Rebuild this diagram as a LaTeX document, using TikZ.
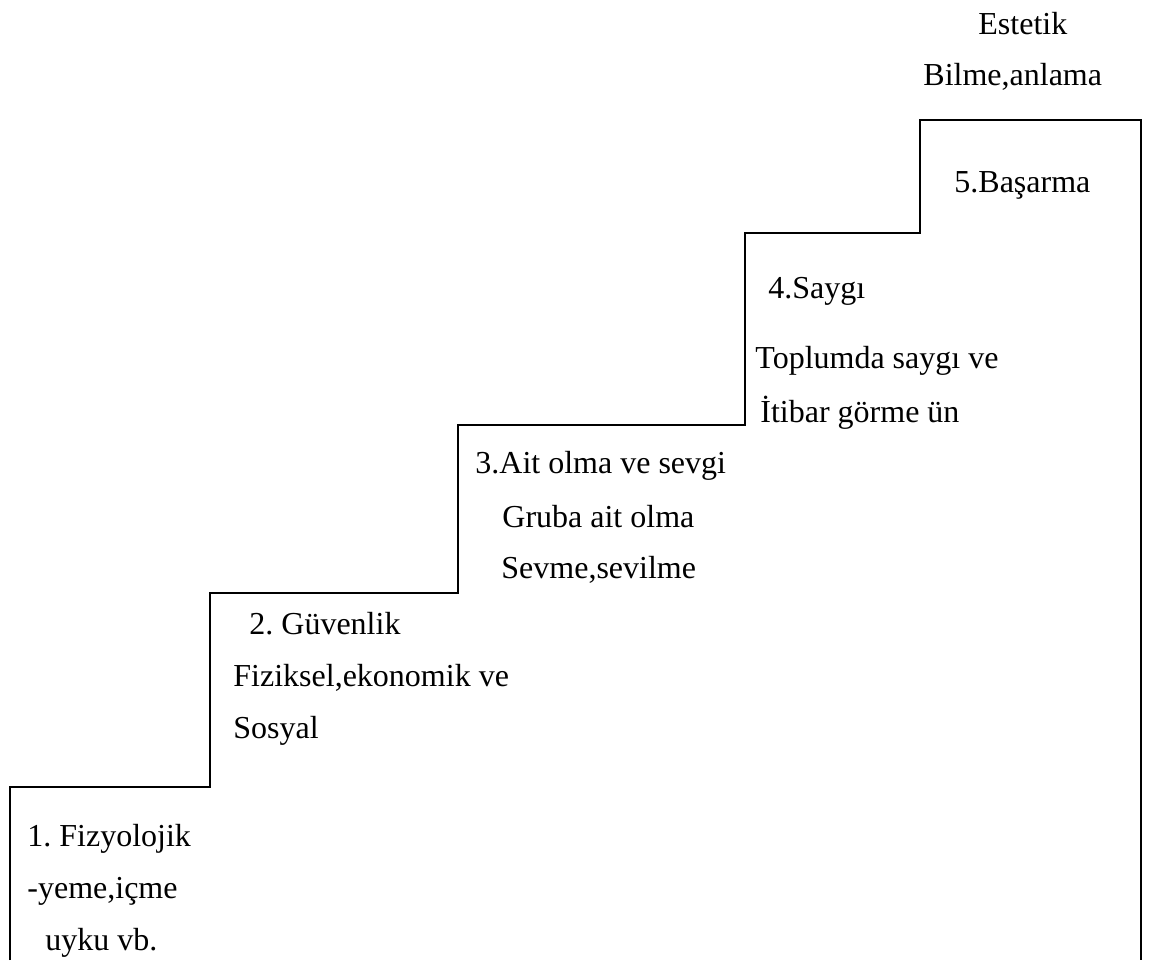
\documentclass[tikz,border=0pt]{standalone}
\usepackage{fontspec}
\setmainfont{Liberation Serif}
\frenchspacing
\begin{document}
\begin{tikzpicture}
    [
        x=0.5pt, y=-0.5pt,
        stair/.style={line width=1pt, line join=miter},
        every node/.style={anchor=base west, inner sep=0pt, font=\fontsize{16}{19}\selectfont}
    ]
    \useasboundingbox (0,0) rectangle (1159,960);

    % basamaklar
    \draw[stair] (10,960) -- (10,787) -- (210,787) -- (210,593) -- (458,593) -- (458,425)
        -- (745,425) -- (745,233) -- (920,233) -- (920,120) -- (1141,120) -- (1141,960);

    % 1. basamak
    \node (fizyo) at (27,846) {1. Fizyolojik};
    \node (yeme) at (27,898) {-yeme,içme};
    \node (uyku) at (45,950) {uyku vb.};

    % 2. basamak
    \node (guven) at (249,634) {2. Güvenlik};
    \node (fizik) at (233,686) {Fiziksel,ekonomik ve};
    \node (sosyal) at (233,738) {Sosyal};

    % 3. basamak
    \node (ait) at (475,473) {3.Ait olma ve sevgi};
    \node (gruba) at (502,527) {Gruba ait olma};
    \node (sevme) at (501,578) {Sevme,sevilme};

    % 4. basamak
    \node (saygi) at (768,298) {4.Saygı};
    \node (toplum) at (755,368) {Toplumda saygı ve};
    \node (itibar) at (760,422) {İtibar görme ün};

    % 5. basamak
    \node (basarma) at (954,192) {5.Başarma};
    \node (bilme) at (923,85) {Bilme,anlama};
    \node (estetik) at (978,34) {Estetik};
\end{tikzpicture}
\end{document}
